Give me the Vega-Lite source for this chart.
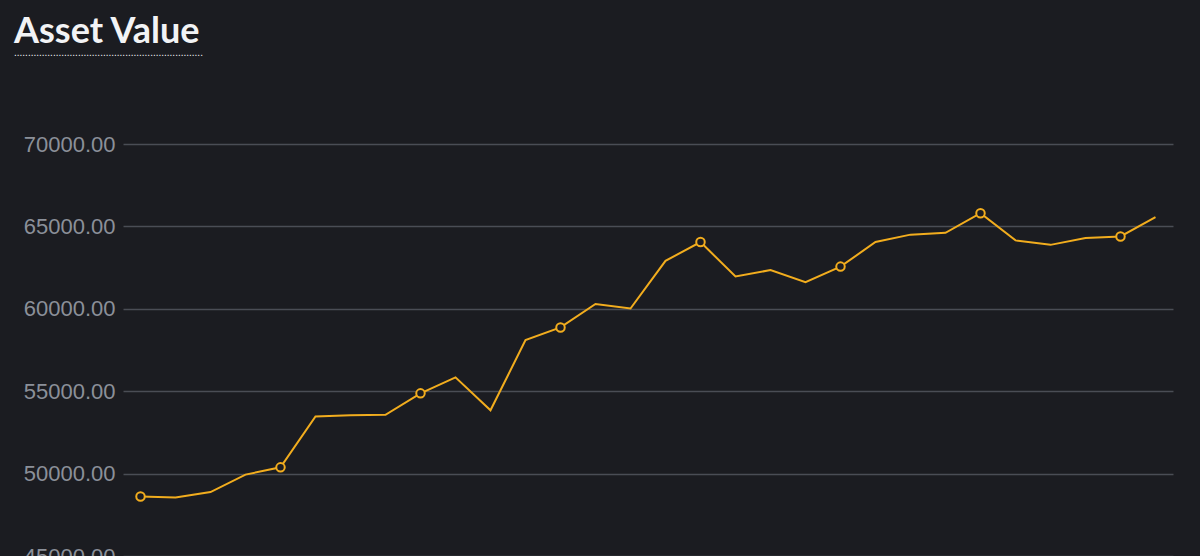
{
  "$schema": "https://vega.github.io/schema/vega-lite/v6.json",
  "width": 1050,
  "height": 412,
  "autosize": {"type": "none"},
  "padding": {"left": 123, "top": 144, "right": 27, "bottom": 0},
  "background": "#1b1c21",
  "title": {
    "text": "Asset Value",
    "subtitle": "....................................................................",
    "anchor": "start",
    "frame": "group",
    "orient": "top",
    "dx": -109,
    "offset": 74,
    "font": "Lato",
    "fontSize": 36,
    "fontWeight": "bold",
    "color": "#f2f3f5",
    "subtitleFont": "Liberation Sans",
    "subtitleFontSize": 10,
    "subtitleColor": "#f2f3f5",
    "subtitlePadding": -3
  },
  "config": {
    "view": {"stroke": null},
    "axis": {
      "labelFont": "Liberation Sans",
      "labelFontSize": 22,
      "labelColor": "#8b9099",
      "gridColor": "#4a4d55",
      "gridWidth": 1.5,
      "domain": false,
      "ticks": false
    }
  },
  "data": {
    "values": [
      {"period": 1, "value": 48606},
      {"period": 2, "value": 48545},
      {"period": 3, "value": 48880},
      {"period": 4, "value": 49939},
      {"period": 5, "value": 50380},
      {"period": 6, "value": 53470},
      {"period": 7, "value": 53540},
      {"period": 8, "value": 53570},
      {"period": 9, "value": 54870},
      {"period": 10, "value": 55840},
      {"period": 11, "value": 53840},
      {"period": 12, "value": 58100},
      {"period": 13, "value": 58870},
      {"period": 14, "value": 60290},
      {"period": 15, "value": 60020},
      {"period": 16, "value": 62910},
      {"period": 17, "value": 64050},
      {"period": 18, "value": 61960},
      {"period": 19, "value": 62350},
      {"period": 20, "value": 61620},
      {"period": 21, "value": 62560},
      {"period": 22, "value": 64050},
      {"period": 23, "value": 64500},
      {"period": 24, "value": 64610},
      {"period": 25, "value": 65800},
      {"period": 26, "value": 64150},
      {"period": 27, "value": 63880},
      {"period": 28, "value": 64290},
      {"period": 29, "value": 64390},
      {"period": 30, "value": 65560}
    ]
  },
  "encoding": {
    "x": {
      "field": "period",
      "type": "ordinal",
      "scale": {"type": "point", "padding": 0.5},
      "axis": null
    },
    "y": {
      "field": "value",
      "type": "quantitative",
      "scale": {"domain": [45000, 70000], "nice": false, "zero": false},
      "axis": {
        "title": null,
        "format": ".2f",
        "values": [45000, 50000, 55000, 60000, 65000, 70000],
        "labelPadding": 8
      }
    }
  },
  "layer": [
    {
      "mark": {"type": "line", "color": "#f2ad1e", "strokeWidth": 2}
    },
    {
      "transform": [{"filter": "(datum.period - 1) % 4 == 0"}],
      "mark": {
        "type": "point",
        "shape": "circle",
        "size": 72,
        "filled": true,
        "fill": "#1b1c21",
        "stroke": "#f2ad1e",
        "strokeWidth": 2,
        "opacity": 1
      }
    }
  ]
}
